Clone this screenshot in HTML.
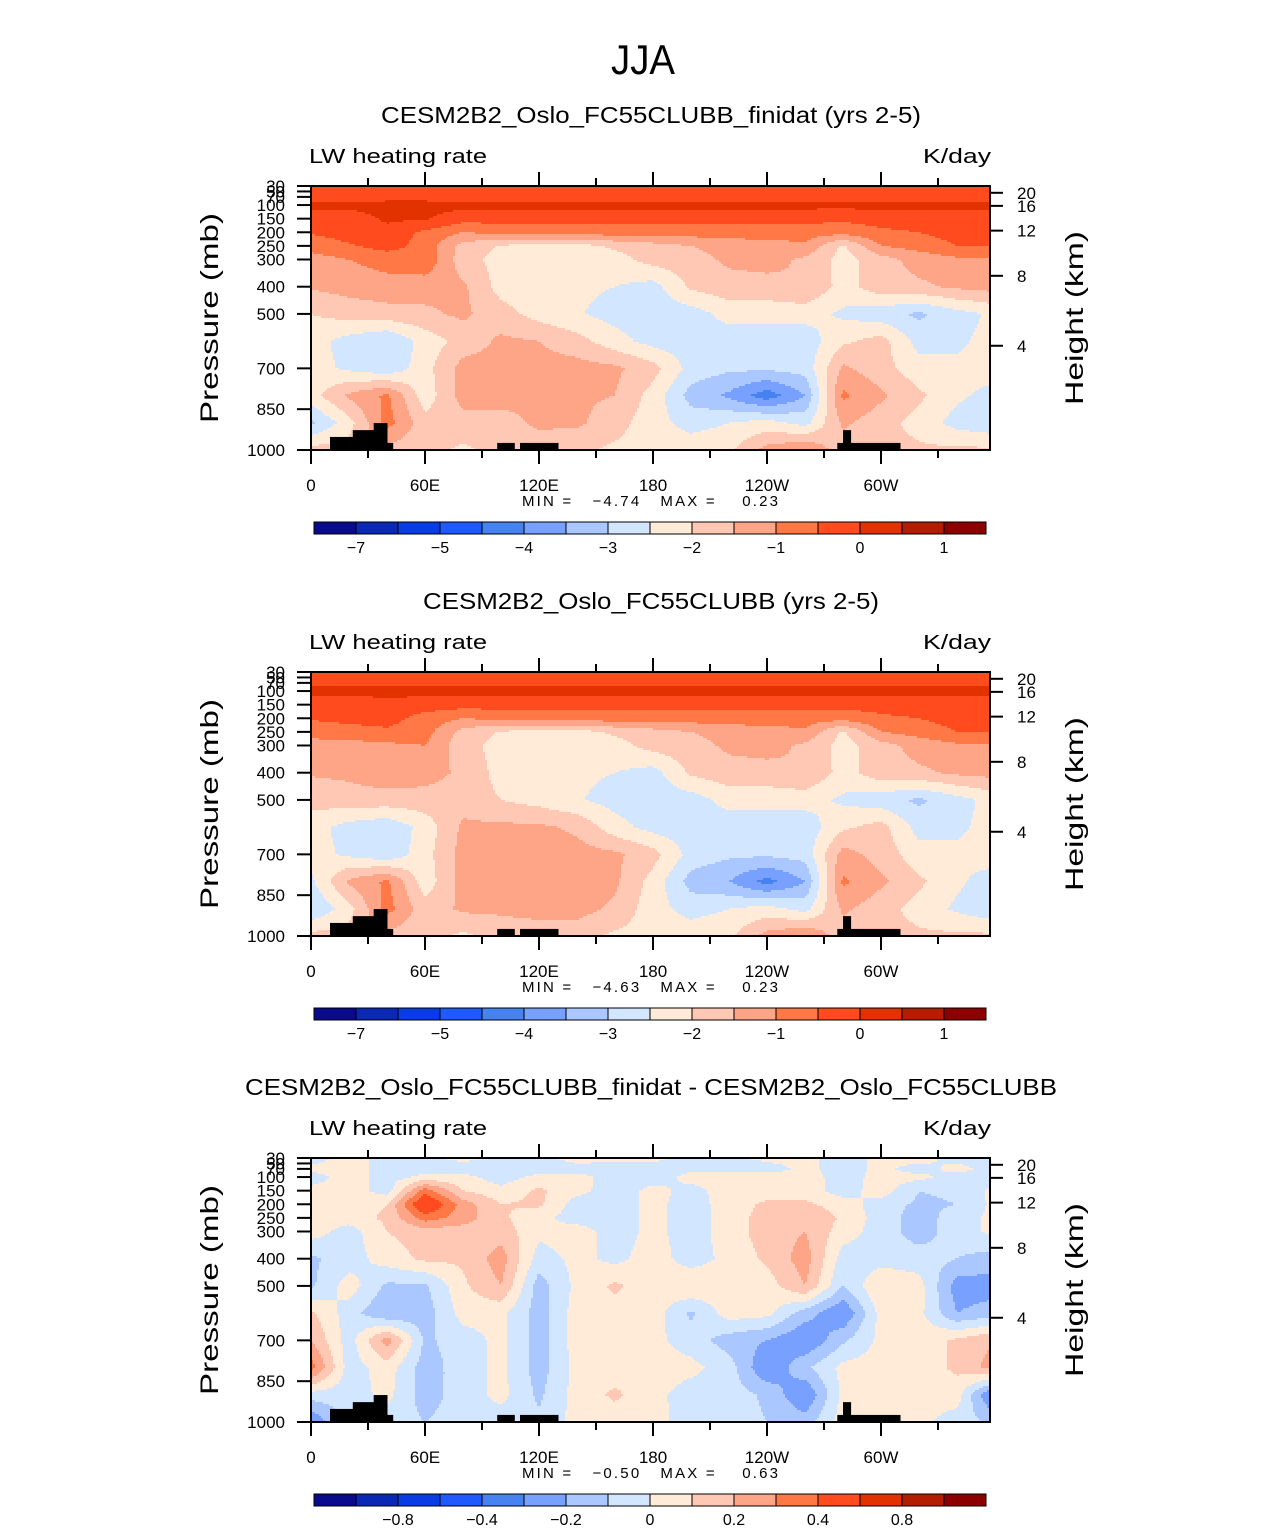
<!DOCTYPE html>
<html><head><meta charset="utf-8"><style>
html,body{margin:0;padding:0;background:#fff;}
svg{display:block;font-family:"Liberation Sans",sans-serif;}
</style></head><body>
<svg id="fig" width="1285" height="1531" viewBox="0 0 1285 1531">
<text x="643" y="74" font-size="42" text-anchor="middle" textLength="64" lengthAdjust="spacingAndGlyphs" fill="#000">JJA</text>
</svg>
<script>
// ===== data =====
const lonNodes = [0,20,40,60,80,100,120,140,160,180,200,220,240,260,280,300,320,340,360];
const pNodes = [30,70,100,150,200,250,300,400,500,600,700,800,900,1000];
const levelsAbs = [-7,-6,-5,-4.5,-4,-3.5,-3,-2.5,-2,-1.5,-1,-0.5,0,0.5,1];
const levelsDiff = [-1,-0.8,-0.6,-0.4,-0.3,-0.2,-0.1,0,0.1,0.2,0.3,0.4,0.6,0.8,1];
const palette = ["#0a0a8c","#0a28b4","#0a3ce6","#1e5aff","#4682f0","#78a0ff","#aac8ff","#d2e6ff","#ffebd7","#ffc8b4","#ffa587","#ff7846","#ff4b1e","#e13200","#b41e00","#8c0000"];
const absTickLabels = ["−7","−5","−4","−3","−2","−1","0","1"];
const absTickIdx = [0,2,4,6,8,10,12,14];
const diffTickLabels = ["−0.8","−0.4","−0.2","0","0.2","0.4","0.8"];
const diffTickIdx = [1,3,5,7,9,11,13];
const lonTickLabels = ["0","60E","120E","180","120W","60W"];
const lonTickVals = [0,60,120,180,240,300];
const pTickVals = [30,50,70,100,150,200,250,300,400,500,700,850,1000];
const hTickLabels = ["20","16","12","8","4"];
const hTickPress = [55,103,194,360,617];
const topoLon0 = [10,22,33,40,98,110,277,280,284];
const topoLon1 = [22,33,40,43,107,130,280,284,310];
const topoP = [952,927,901,974,974,974,974,927,974];

const field1 = [
[-0.3,-0.3,-0.3,-0.3,-0.3,-0.3,-0.3,-0.3,-0.3,-0.3,-0.3,-0.3,-0.3,-0.3,-0.3,-0.3,-0.3,-0.3,-0.3],
[-0.2,-0.2,-0.2,-0.2,-0.2,-0.2,-0.2,-0.2,-0.2,-0.2,-0.2,-0.2,-0.2,-0.2,-0.2,-0.2,-0.2,-0.2,-0.2],
[0.15,0.15,0.2,0.2,0.15,0.15,0.15,0.15,0.15,0.15,0.15,0.15,0.15,0.15,0.15,0.15,0.15,0.15,0.15],
[-0.3,-0.3,0.1,0.05,-0.3,-0.3,-0.35,-0.35,-0.35,-0.35,-0.35,-0.35,-0.35,-0.35,-0.4,-0.3,-0.2,-0.2,-0.3],
[-0.45,-0.3,-0.2,-0.6,-1.0,-0.85,-0.75,-0.75,-0.75,-0.75,-0.75,-0.75,-0.75,-0.75,-0.8,-0.6,-0.5,-0.3,-0.3],
[-0.8,-0.55,-0.3,-0.7,-1.7,-2.05,-2.2,-2.2,-1.9,-1.7,-1.5,-1.3,-1.2,-1.1,-2.1,-1.0,-0.8,-0.5,-0.5],
[-1.2,-1.0,-0.8,-0.6,-1.8,-2.2,-2.3,-2.3,-2.2,-1.8,-1.7,-1.4,-1.3,-1.6,-2.2,-1.7,-1.3,-1.1,-1.1],
[-1.45,-1.3,-1.2,-1.3,-1.4,-2.2,-2.3,-2.4,-2.5,-2.7,-1.9,-1.7,-1.7,-1.5,-2.2,-1.7,-1.6,-1.4,-1.3],
[-2.0,-1.8,-1.7,-1.6,-1.4,-1.8,-2.2,-2.45,-2.7,-2.8,-2.75,-2.3,-2.3,-2.3,-2.6,-2.8,-3.1,-2.7,-2.4],
[-2.3,-2.7,-3.0,-2.3,-1.8,-1.4,-1.5,-1.8,-2.3,-2.7,-2.8,-2.8,-2.8,-2.8,-2.1,-1.8,-2.7,-2.6,-2.3],
[-2.3,-2.6,-2.9,-2.2,-1.3,-1.3,-1.3,-1.3,-1.4,-1.8,-2.7,-2.9,-2.9,-2.8,-1.4,-1.8,-2.3,-2.4,-2.2],
[-2.2,-1.4,-0.9,-2.3,-1.3,-1.3,-1.4,-1.4,-1.5,-2.2,-3.2,-3.6,-4.3,-3.5,-0.9,-1.4,-1.9,-2.4,-2.7],
[-3.1,-2.2,-0.8,-1.8,-1.7,-1.7,-1.4,-1.4,-1.8,-2.3,-2.7,-2.5,-2.3,-2.7,-1.4,-1.8,-2.2,-2.7,-2.9],
[-1.8,-1.8,-1.7,-1.8,-2.1,-1.8,-1.8,-1.9,-2.1,-2.2,-2.2,-2.1,-1.3,-1.0,-1.8,-1.8,-1.9,-1.9,-1.9]
];
const field2 = [
[-0.3,-0.3,-0.3,-0.3,-0.3,-0.3,-0.3,-0.3,-0.3,-0.3,-0.3,-0.3,-0.3,-0.3,-0.3,-0.3,-0.3,-0.3,-0.3],
[-0.15,-0.15,-0.15,-0.15,-0.15,-0.15,-0.15,-0.15,-0.15,-0.15,-0.15,-0.15,-0.15,-0.15,-0.15,-0.15,-0.15,-0.15,-0.15],
[0.15,0.15,0.2,0.15,0.15,0.15,0.15,0.15,0.15,0.15,0.15,0.15,0.15,0.15,0.15,0.15,0.15,0.15,0.15],
[-0.3,-0.3,-0.2,-0.25,-0.3,-0.3,-0.3,-0.3,-0.3,-0.3,-0.3,-0.3,-0.3,-0.3,-0.35,-0.3,-0.2,-0.2,-0.3],
[-0.45,-0.35,-0.3,-0.7,-1.0,-0.85,-0.75,-0.75,-0.75,-0.75,-0.75,-0.75,-0.75,-0.75,-0.8,-0.6,-0.5,-0.3,-0.3],
[-0.8,-0.7,-0.6,-0.8,-1.7,-2.05,-2.2,-2.2,-1.9,-1.7,-1.5,-1.3,-1.2,-1.1,-2.1,-1.0,-0.8,-0.5,-0.5],
[-1.2,-1.2,-1.1,-1.0,-1.8,-2.2,-2.3,-2.3,-2.2,-1.8,-1.7,-1.4,-1.3,-1.6,-2.2,-1.7,-1.3,-1.1,-1.1],
[-1.45,-1.4,-1.2,-1.3,-1.6,-2.2,-2.3,-2.4,-2.5,-2.7,-1.9,-1.7,-1.7,-1.5,-2.2,-1.7,-1.6,-1.4,-1.3],
[-1.8,-1.7,-1.7,-1.7,-1.7,-2.0,-2.2,-2.45,-2.7,-2.8,-2.75,-2.3,-2.3,-2.3,-2.6,-2.8,-3.1,-2.7,-2.3],
[-2.3,-2.7,-2.9,-2.3,-1.4,-1.4,-1.4,-1.6,-2.3,-2.7,-2.8,-2.8,-2.8,-2.8,-2.1,-1.8,-2.7,-2.6,-2.3],
[-2.3,-2.6,-2.9,-2.2,-1.3,-1.3,-1.3,-1.3,-1.4,-1.8,-2.7,-2.9,-2.9,-2.8,-1.3,-1.7,-2.3,-2.4,-2.2],
[-2.6,-1.4,-0.9,-2.3,-1.3,-1.3,-1.3,-1.3,-1.4,-2.2,-3.2,-3.5,-4.2,-3.5,-0.9,-1.4,-1.9,-2.4,-2.8],
[-3.0,-2.2,-0.8,-1.8,-1.4,-1.4,-1.3,-1.3,-1.6,-2.3,-2.7,-2.5,-2.3,-2.7,-1.4,-1.8,-2.2,-2.6,-2.9],
[-1.8,-1.8,-1.7,-1.8,-2.1,-1.8,-1.8,-1.8,-2.1,-2.2,-2.2,-2.1,-1.3,-1.0,-1.8,-1.8,-1.9,-1.9,-1.9]
];
const field3 = [
[-0.05,0.05,-0.05,-0.03,0.03,-0.03,-0.05,0.05,0.03,0.03,-0.05,-0.03,0.03,0.03,-0.05,0.03,0.05,-0.05,-0.05],
[0.03,0.05,-0.05,-0.05,-0.05,-0.05,-0.05,-0.05,-0.05,-0.05,-0.02,-0.05,-0.05,0.03,-0.05,0.03,-0.05,0.04,-0.05],
[-0.05,0.05,-0.05,0.03,0.03,-0.05,0.03,0.04,-0.05,-0.05,0.03,0.05,0.05,0.05,-0.05,0.04,0.03,-0.05,-0.05],
[0.03,0.05,-0.05,0.35,0.1,0.03,0.12,0.03,-0.05,0.03,-0.03,0.04,0.05,0.05,-0.05,0.05,-0.1,-0.08,0.03],
[0.05,0.05,0.1,0.55,0.25,0.1,0.12,-0.05,-0.05,0.03,-0.05,0.05,0.12,0.12,0.05,-0.05,-0.12,-0.1,0.03],
[0.05,0.05,0.12,0.35,0.25,0.12,0.03,-0.05,-0.05,0.03,-0.05,0.04,0.15,0.2,0.08,-0.05,-0.15,-0.05,0.03],
[0.05,-0.05,0.1,0.15,0.15,0.15,0.03,0.05,-0.05,0.03,-0.05,0.05,0.15,0.2,0.05,-0.05,-0.15,-0.05,0.03],
[-0.12,-0.05,0.05,0.12,0.12,0.25,-0.05,0.03,-0.03,0.05,-0.05,0.03,0.12,0.25,-0.05,-0.05,-0.05,-0.1,-0.15],
[-0.12,0.05,-0.12,-0.12,0.08,0.2,-0.15,0.03,0.12,0.04,0.1,0.05,0.05,0.2,-0.1,0.1,0.04,-0.25,-0.25],
[0.12,-0.05,-0.2,-0.15,0.04,0.03,-0.15,0.05,0.05,0.05,-0.12,0.05,0.03,-0.15,-0.3,0.04,0.03,-0.2,-0.15],
[0.2,-0.05,0.25,-0.12,-0.05,0.03,-0.15,0.05,0.05,0.03,-0.05,-0.15,-0.2,-0.3,-0.12,0.03,0.05,0.12,0.2],
[0.35,-0.05,0.05,-0.15,-0.05,0.03,-0.15,0.04,0.05,0.05,0.03,-0.05,-0.3,-0.12,0.03,0.05,0.05,0.12,0.25],
[-0.05,-0.05,0.03,-0.15,-0.05,0.03,-0.12,0.04,0.12,0.03,-0.05,-0.05,-0.12,-0.3,0.03,0.03,0.03,0.05,-0.35],
[-0.3,-0.05,-0.05,-0.1,-0.05,-0.05,-0.08,0.04,0.04,0.04,-0.05,-0.05,-0.1,-0.15,0.05,0.03,0.03,-0.05,-0.12]
];

const panelTitles = ["CESM2B2_Oslo_FC55CLUBB_finidat (yrs 2-5)","CESM2B2_Oslo_FC55CLUBB (yrs 2-5)","CESM2B2_Oslo_FC55CLUBB_finidat - CESM2B2_Oslo_FC55CLUBB"];
const titleWidths = [540,456,812];
const minVals = ["−4.74","−4.63","−0.50"];
const maxVals = ["0.23","0.23","0.63"];

// ===== drawing =====
const NS = "http://www.w3.org/2000/svg";
const svg = document.getElementById("fig");
const X0 = 311, X1 = 990, PH = 264, LONMAX = (X1 - X0) / 1.9;
function xOf(lon){ return X0 + lon * 1.9; }
function mk(tag, attrs, parent){ const e = document.createElementNS(NS, tag); for (const k in attrs) e.setAttribute(k, attrs[k]); (parent||svg).appendChild(e); return e; }
function sample(field, lon, p){
  let i = Math.min(Math.floor(lon/20), lonNodes.length-2); const tx = (lon - lonNodes[i]) / 20;
  let j = 0; while (j < pNodes.length-2 && p > pNodes[j+1]) j++;
  const ty = Math.max(0, Math.min(1, (p - pNodes[j]) / (pNodes[j+1] - pNodes[j])));
  const a = field[j][i]*(1-tx) + field[j][i+1]*tx;
  const b = field[j+1][i]*(1-tx) + field[j+1][i+1]*tx;
  return a*(1-ty) + b*ty;
}
function colorIdx(v, levels){ let k = 0; while (k < levels.length && v >= levels[k]) k++; return k; }

const fields = [field1, field2, field3];
const levelSets = [levelsAbs, levelsAbs, levelsDiff];
for (let n = 0; n < 3; n++) {
  const off = n * 486;
  const top = 186 + off, bot = top + PH;
  const yOf = p => top + (p - 30) * PH / 970;
  const pOf = y => 30 + (y - top) * 970 / PH;
  const lonOf = x => (x - X0) / 1.9;
  const g = mk("g", {});
  
  

  const t = mk("text", {x: 651, y: 123 + off, "font-size": 23, "text-anchor": "middle", textLength: titleWidths[n], lengthAdjust: "spacingAndGlyphs"}, g);
  t.textContent = panelTitles[n];
  
  
  const l1 = mk("text", {x: 309, y: 163 + off, "font-size": 20, textLength: 178, lengthAdjust: "spacingAndGlyphs"}, g);
  l1.textContent = "LW heating rate";
  
  
  const l2 = mk("text", {x: 991, y: 163 + off, "font-size": 20, "text-anchor": "end", textLength: 68, lengthAdjust: "spacingAndGlyphs"}, g);
  l2.textContent = "K/day";
  
  

  // contour fill
  const cg = mk("g", {"shape-rendering": "crispEdges"}, g);
  
  
  const step = 2;
  for (let y = top; y < bot; y += step) {
    const p = pOf(y + step/2);
    let runStart = X0, runC = -1;
    const flush = (xe) => {
      if (runC >= 0) {
        const r = mk("rect", {x: runStart, y: y, width: xe - runStart + 0.6, height: Math.min(step + 0.6, bot - y), fill: palette[runC]}, cg);
        
        
      }
    };
    for (let x = X0; x < X1; x += step) {
      const c = colorIdx(sample(fields[n], Math.min(lonOf(x + step/2), LONMAX), p), levelSets[n]);
      if (c !== runC) { flush(x); runStart = x; runC = c; }
    }
    flush(X1);
  }
  // topography
  for (let k = 0; k < topoLon0.length; k++) {
    const r = mk("rect", {x: xOf(topoLon0[k]), y: yOf(topoP[k]), width: xOf(topoLon1[k]) - xOf(topoLon0[k]) + 0.5, height: bot - yOf(topoP[k]), fill: "#000"}, g);
    
    
  }
  // frame
  const fr = mk("rect", {x: X0, y: top, width: X1 - X0, height: PH, fill: "none", stroke: "#000", "stroke-width": 2}, g);
  
  
  // lon ticks
  for (let lon = 0; lon <= 330; lon += 30) {
    const x = xOf(lon); const major = lon % 60 === 0;
    mk("line", {x1: x, x2: x, y1: bot, y2: bot + (major ? 14 : 8), stroke: "#000", "stroke-width": 2}, g);
    if (lon > 0) mk("line", {x1: x, x2: x, y1: top, y2: top - (major ? 14 : 8), stroke: "#000", "stroke-width": 2}, g);
  }
  for (let k = 0; k < lonTickLabels.length; k++) {
    const tx = mk("text", {x: xOf(lonTickVals[k]), y: bot + 41, "font-size": 17, "text-anchor": "middle"}, g);
    tx.textContent = lonTickLabels[k];
    
    
  }
  // pressure ticks
  for (let k = 0; k < pTickVals.length; k++) {
    const y = yOf(pTickVals[k]);
    mk("line", {x1: X0 - 14, x2: X0, y1: y, y2: y, stroke: "#000", "stroke-width": 2}, g);
    const tx = mk("text", {x: X0 - 26, y: y + 6, "font-size": 17, "text-anchor": "end"}, g);
    tx.textContent = String(pTickVals[k]);
    
    
  }
  // height ticks
  for (let k = 0; k < hTickLabels.length; k++) {
    const y = yOf(hTickPress[k]);
    mk("line", {x1: X1, x2: X1 + 13, y1: y, y2: y, stroke: "#000", "stroke-width": 2}, g);
    const tx = mk("text", {x: X1 + 27, y: y + 6, "font-size": 17}, g);
    tx.textContent = hTickLabels[k];
    
    
  }
  const ya = mk("text", {x: 0, y: 0, "font-size": 25, "text-anchor": "middle", transform: `translate(218,${318+off}) rotate(-90)`, textLength: 210, lengthAdjust: "spacingAndGlyphs"}, g);
  ya.textContent = "Pressure (mb)";
  
  
  const ya2 = mk("text", {x: 0, y: 0, "font-size": 25, "text-anchor": "middle", transform: `translate(1083,${318+off}) rotate(-90)`, textLength: 174, lengthAdjust: "spacingAndGlyphs"}, g);
  ya2.textContent = "Height (km)";
  
  
  const mm = mk("text", {x: 522, y: 506 + off, "font-size": 15, style: "white-space:pre", textLength: 256, lengthAdjust: "spacing"}, g);
  mm.textContent = "MIN =   " + minVals[n] + "   MAX =    " + maxVals[n];
  
  
  // colorbar
  const cb = mk("g", {}, g);
  
  
  const cbY = 522 + off, bw = 42;
  for (let k = 0; k < palette.length; k++) {
    const r = mk("rect", {x: 314 + k*bw, y: cbY, width: bw, height: 12, fill: palette[k], stroke: "#000", "stroke-width": 1}, cb);
    
    
  }
  const labs = n < 2 ? absTickLabels : diffTickLabels;
  const idxs = n < 2 ? absTickIdx : diffTickIdx;
  for (let k = 0; k < labs.length; k++) {
    const tx = mk("text", {x: 314 + (idxs[k]+1)*bw, y: cbY + 31, "font-size": 16, "text-anchor": "middle"}, cb);
    tx.textContent = labs[k];
    
    
  }
}
</script>
</body></html>
